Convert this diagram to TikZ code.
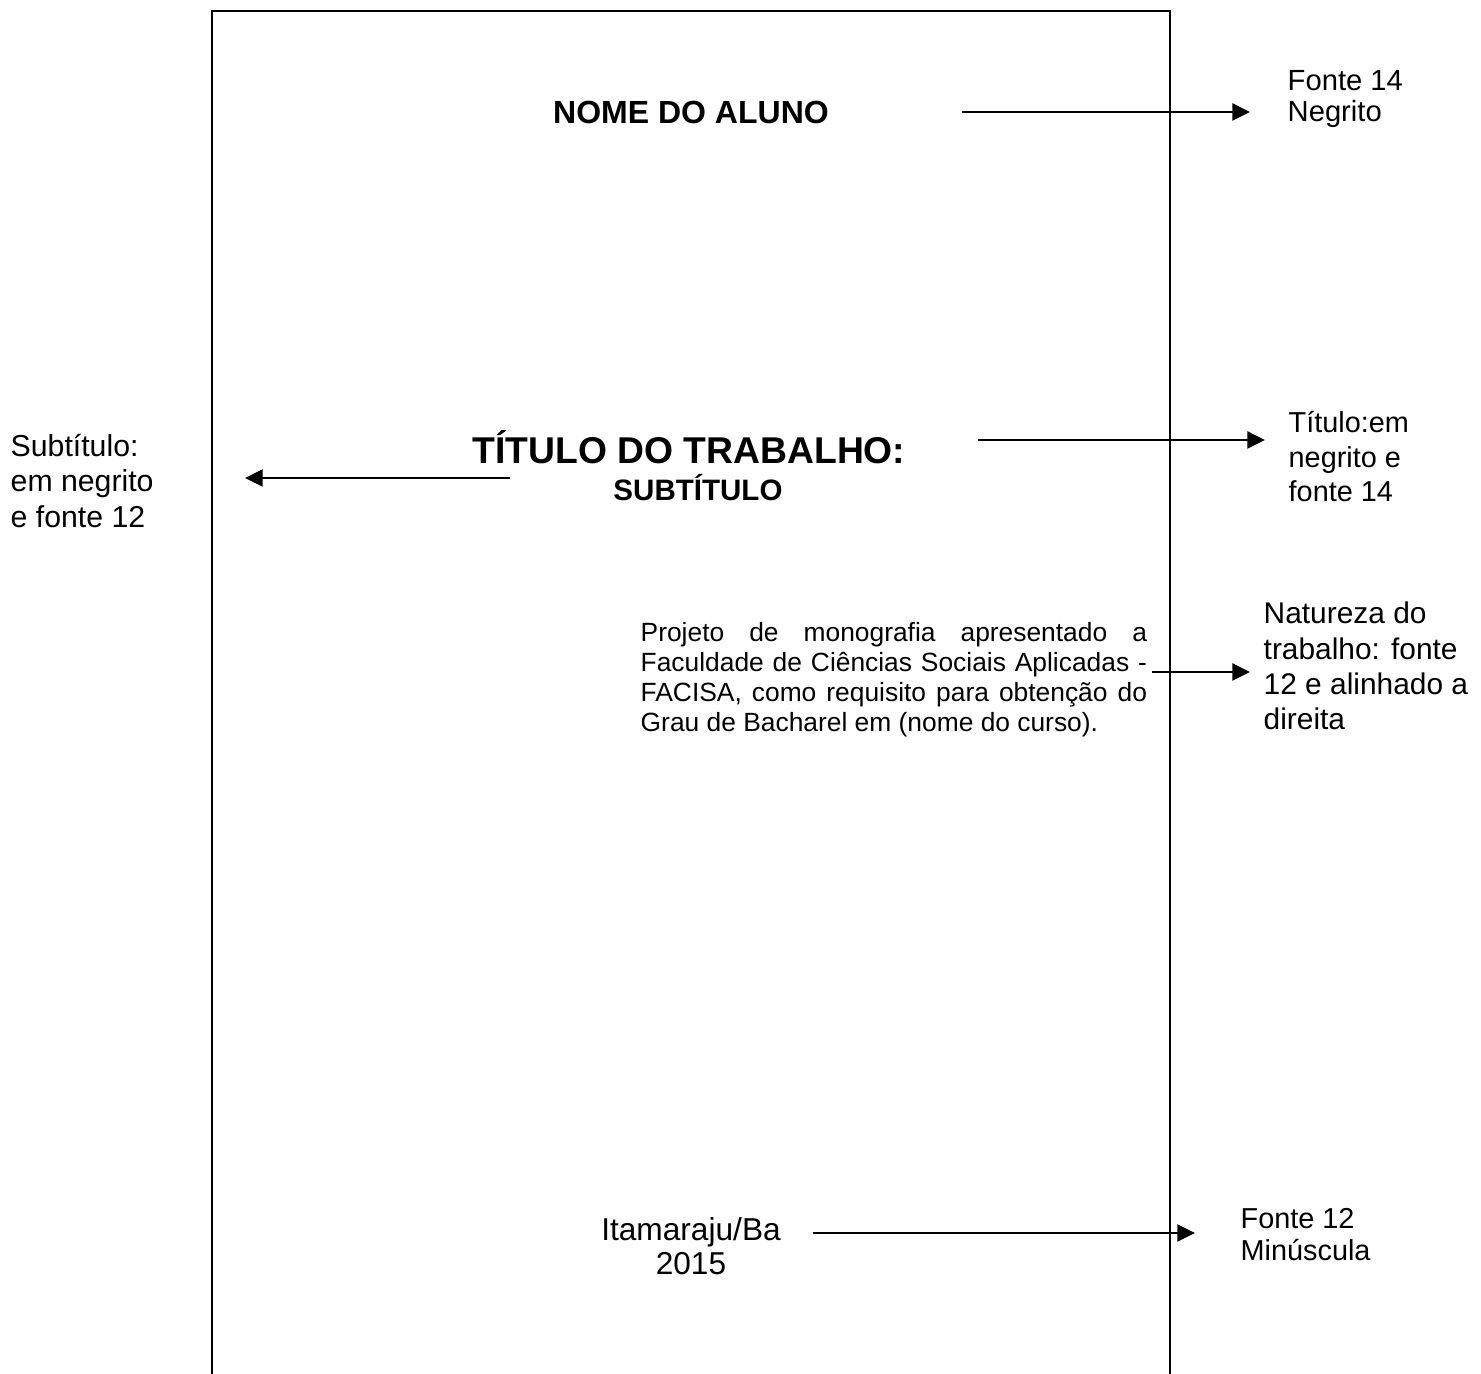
\documentclass[tikz,border=0pt]{standalone}
\usepackage{fontspec}
\setmainfont{Liberation Sans}
\usetikzlibrary{arrows.meta}

\begin{document}
\begin{tikzpicture}[x=0.01cm, y=-0.01cm, inner sep=0pt]
            \useasboundingbox (0,0) rectangle (1481,1374);

            \tikzstyle{myNote}=[align=left, anchor=west];
            \tikzstyle{myArrow}=[-{Triangle[length=5pt,width=4.8pt]}, line width=0.7pt];

            % folha
            \draw[line width=0.7pt] (212,1374) -- (212,11) -- (1170,11) -- (1170,1374);

            % textos da folha
            \node[font=\fontsize{9.1}{11}\selectfont\bfseries] (nome) at (691,113) {NOME DO ALUNO};
            \node[font=\fontsize{10.6}{12}\selectfont\bfseries] (titulo) at (689,447) {TÍTULO DO TRABALHO:};
            \node[font=\fontsize{8.4}{10}\selectfont\bfseries] (subtitulo) at (698,488) {SUBTÍTULO};
            \node[anchor=west, text width=5.06cm, align=justify, font=\fontsize{7.5}{8.5}\selectfont] (natureza) at (640,680)
                {Projeto de monografia apresentado a\linebreak Faculdade de Ciências Sociais Aplicadas -\linebreak FACISA, como requisito para obtenção do\linebreak Grau de Bacharel em (nome do curso).};
            \node[align=center, font=\fontsize{9}{9.7}\selectfont] (local) at (691,1246) {Itamaraju/Ba\\2015};

            % notas
            \node[myNote, font=\fontsize{8.3}{8.8}\selectfont] (notaNome) at (1287,99) {Fonte 14\\Negrito};
            \node[myNote, font=\fontsize{8.2}{9.8}\selectfont] (notaTitulo) at (1288,457) {Título:em\\negrito e\\fonte 14};
            \node[myNote, font=\fontsize{8.6}{10.1}\selectfont] (notaSub) at (10,481) {Subtítulo:\\em negrito\\e fonte 12};
            \node[myNote, font=\fontsize{8.5}{10}\selectfont] (notaNatureza) at (1263,666) {Natureza do\\trabalho: fonte\\12 e alinhado a\\direita};
            \node[myNote, font=\fontsize{8.2}{9.1}\selectfont] (notaLocal) at (1240,1235) {Fonte 12\\Minúscula};

            % setas
            \coordinate (nomeIni) at (962,112);
            \coordinate (nomeFim) at (1250,112);
            \coordinate (tituloIni) at (978,440);
            \coordinate (tituloFim) at (1265,440);
            \coordinate (subIni) at (510,478);
            \coordinate (subFim) at (245,478);
            \coordinate (naturezaIni) at (1152,672);
            \coordinate (naturezaFim) at (1250,672);
            \coordinate (localIni) at (813,1233);
            \coordinate (localFim) at (1195,1233);
            \draw[myArrow] (nomeIni) -- (nomeFim);
            \draw[myArrow] (tituloIni) -- (tituloFim);
            \draw[myArrow] (subIni) -- (subFim);
            \draw[myArrow] (naturezaIni) -- (naturezaFim);
            \draw[myArrow] (localIni) -- (localFim);
         \end{tikzpicture}
\end{document}
